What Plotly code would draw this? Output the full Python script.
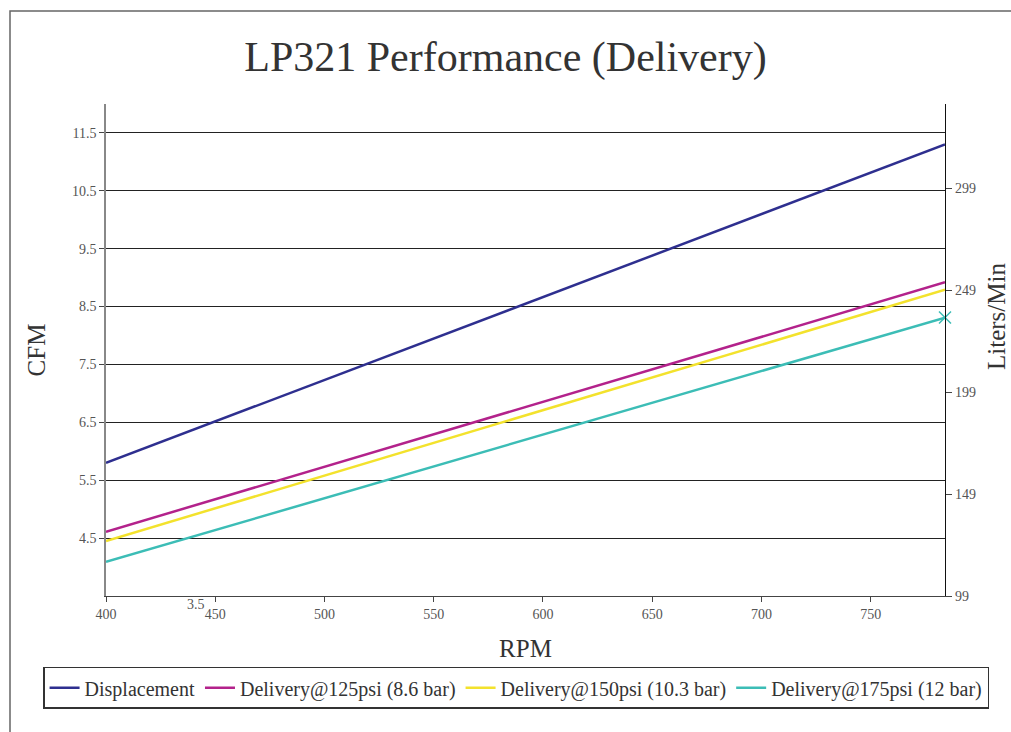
import plotly.graph_objects as go

# ---- data ----
rpm = [400, 784]
displacement = [5.80, 11.30]
delivery_125 = [4.61, 8.92]
delivery_150 = [4.45, 8.79]
delivery_175 = [4.09, 8.31]

series_names = ["Displacement", "Delivery@125psi (8.6 bar)",
                "Delivery@150psi (10.3 bar)", "Delivery@175psi (12 bar)"]
series_values = [displacement, delivery_125, delivery_150, delivery_175]
series_colors = ["#2e2f8f", "#b3228b", "#f3e22c", "#3cbdb6"]

x_ticks = [400, 450, 500, 550, 600, 650, 700, 750]
cfm_ticks = [4.5, 5.5, 6.5, 7.5, 8.5, 9.5, 10.5, 11.5]
lpm_ticks = [99, 149, 199, 249, 299]

FONT = "Liberation Serif"

fig = go.Figure()
for name, vals, col in zip(series_names, series_values, series_colors):
    fig.add_trace(go.Scatter(x=rpm, y=vals, mode="lines", name=name,
                             line=dict(color=col, width=2.5)))
# end marker on the 175 psi series
fig.add_trace(go.Scatter(x=[rpm[-1]], y=[delivery_175[-1]], mode="markers",
                         showlegend=False, cliponaxis=False,
                         marker=dict(symbol="x-thin", size=12,
                                     line=dict(color=series_colors[3], width=1.5))))
# invisible trace to activate right axis
fig.add_trace(go.Scatter(x=[rpm[0]], y=[lpm_ticks[0]], yaxis="y2", mode="markers",
                         marker=dict(opacity=0), showlegend=False, hoverinfo="skip"))

fig.update_layout(
    width=1011, height=732,
    margin=dict(l=106, r=66, t=104, b=136),
    paper_bgcolor="white", plot_bgcolor="white",
    font=dict(family=FONT, color="#333"),
    title=dict(text="LP321 Performance (Delivery)", x=0.5, xanchor="center",
               y=1 - 56 / 732, yanchor="middle",
               font=dict(family=FONT, size=42, color="#333")),
    xaxis=dict(range=[400, 784], tickvals=x_ticks, showgrid=False, zeroline=False,
               showline=True, linecolor="#444", linewidth=1.2,
               ticks="outside", ticklen=5, tickcolor="#444",
               tickfont=dict(family=FONT, size=14, color="#555"),
               title=dict(text="RPM", standoff=18,
                          font=dict(family=FONT, size=25, color="#333"))),
    yaxis=dict(range=[3.5, 12], tickvals=cfm_ticks, ticktext=[str(v) for v in cfm_ticks],
               showgrid=True, gridcolor="#222", gridwidth=1, zeroline=False,
               showline=True, linecolor="#888", linewidth=1.5,
               ticks="outside", ticklen=5, tickcolor="#444",
               tickfont=dict(family=FONT, size=14, color="#555"),
               title=dict(text="CFM", standoff=19,
                          font=dict(family=FONT, size=25, color="#333"))),
    yaxis2=dict(range=[99, 340.2], tickvals=lpm_ticks, overlaying="y", side="right",
                showgrid=False, zeroline=False, showline=True, linecolor="#111",
                linewidth=1.2, ticks="outside", ticklen=6, tickcolor="#444",
                tickfont=dict(family=FONT, size=14, color="#555")),
    legend=dict(orientation="h", x=-0.075, xanchor="left", y=-0.144, yanchor="top",
                bordercolor="#333", borderwidth=1.5, bgcolor="white",
                font=dict(family=FONT, size=20, color="#333"),
                itemwidth=30, tracegroupgap=0),
    annotations=[
        dict(text="Liters/Min", textangle=-90, xref="paper", yref="paper",
             x=(996 - 106) / 839, y=(596 - 317) / 492, xanchor="center", yanchor="middle",
             showarrow=False, font=dict(family=FONT, size=25, color="#333")),
        dict(text="3.5", xref="x", yref="paper", x=441.3, y=(596 - 604) / 492,
             xanchor="center", yanchor="middle", showarrow=False,
             font=dict(family=FONT, size=14, color="#555")),
    ],
    shapes=[dict(type="rect", xref="paper", yref="paper",
                 x0=(10 - 106) / 839, x1=(1030 - 106) / 839,
                 y0=(596 - 750) / 492, y1=(596 - 11) / 492,
                 line=dict(color="#666", width=1.5), layer="below")],
)

fig.write_html("out.html", config={"displayModeBar": False},
               post_script="document.body.style.margin='0';")
